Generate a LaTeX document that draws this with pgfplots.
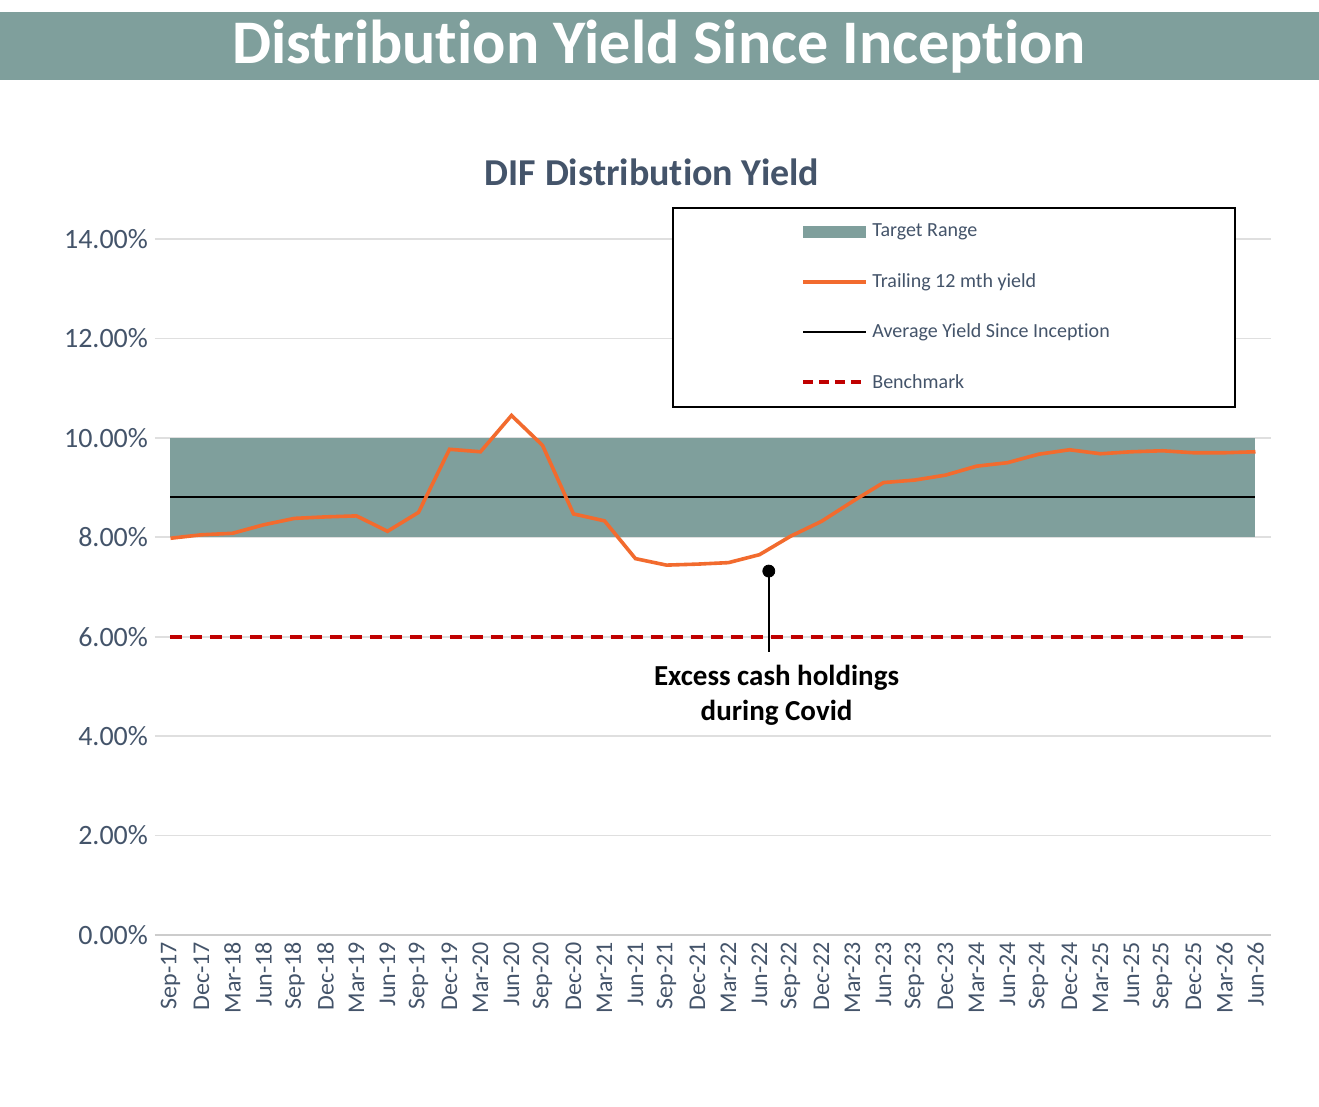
\documentclass[border=0pt]{standalone}
\usepackage{pgfplots}
\pgfplotsset{compat=1.18}
\usepackage{fontspec}
\setmainfont{Carlito}[Ligatures={NoCommon}]
\definecolor{teal}{HTML}{7F9F9C}
\definecolor{txt}{HTML}{44546A}
\definecolor{orng}{HTML}{F26B2E}
\definecolor{bench}{HTML}{C00000}
\begin{document}
\begin{tikzpicture}[x=1pt,y=1pt]
\fill[white] (0,0) rectangle (659.5,553.5);
\fill[teal] (0,513.5) rectangle (659.5,547.5);
\node[text=white,font=\fontsize{31}{33}\selectfont\bfseries] at (329.5,530) {Distribution Yield Since Inception};
\node[text=txt,font=\fontsize{19}{21}\selectfont\bfseries] at (326,467.5) {DIF Distribution Yield};
\begin{axis}[at={(77.5pt,86pt)},anchor=south west,scale only axis,
 width=558pt,height=348pt,xmin=-0.5,xmax=35.5,ymin=0,ymax=14,
 axis line style={draw=none},axis x line*=bottom,
 ytick={0,2,...,14},ymajorgrids,grid style={color=gray!25,line width=0.8pt},
 yticklabel={\pgfmathprintnumber[fixed,fixed zerofill,precision=2]{\tick}\%},
 /pgf/number format/assume math mode=true,
 yticklabel style={font=\fontsize{14}{16}\selectfont,text=txt},
 xtick={0,...,35},major tick length=0pt,
 xticklabels={Sep-17,Dec-17,Mar-18,Jun-18,Sep-18,Dec-18,Mar-19,Jun-19,Sep-19,Dec-19,Mar-20,Jun-20,Sep-20,Dec-20,Mar-21,Jun-21,Sep-21,Dec-21,Mar-22,Jun-22,Sep-22,Dec-22,Mar-23,Jun-23,Sep-23,Dec-23,Mar-24,Jun-24,Sep-24,Dec-24,Mar-25,Jun-25,Sep-25,Dec-25,Mar-26,Jun-26},
 xticklabel style={rotate=90,anchor=east,font=\fontsize{12}{13}\selectfont,text=txt},
 clip=false]
\draw[gray!40,line width=0.8pt] (axis cs:-0.5,0) -- (axis cs:35.5,0);
\addplot[draw=none,fill=teal] coordinates {(0,8) (35,8) (35,10) (0,10)} -- cycle;
\addplot[black,line width=1pt] coordinates {(0,8.82) (35,8.82)};
\addplot[bench,line width=2.2pt,dash pattern=on 6pt off 4pt] coordinates {(0,6) (34.6,6)};
\addplot[orng,line width=1.8pt] coordinates {
(0,7.98)(1,8.05)(2,8.08)(3,8.25)(4,8.38)(5,8.41)(6,8.43)(7,8.12)(8,8.5)(9,9.77)
(10,9.72)(11,10.45)(12,9.85)(13,8.47)(14,8.33)(15,7.57)(16,7.44)(17,7.46)(18,7.49)(19,7.65)
(20,8.02)(21,8.32)(22,8.72)(23,9.1)(24,9.15)(25,9.25)(26,9.43)(27,9.5)(28,9.67)(29,9.76)
(30,9.68)(31,9.72)(32,9.74)(33,9.7)(34,9.7)(35,9.72)};
\addplot[black,line width=1.2pt] coordinates {(19.3,7.32) (19.3,5.7)};
\addplot[only marks,mark=*,mark size=3pt,black] coordinates {(19.3,7.32)};
\node[font=\fontsize{14.5}{17.5}\selectfont\bfseries,align=center] at (axis cs:19.55,4.82) {Excess cash holdings\\during Covid};
\end{axis}
\draw[black,line width=0.9pt,fill=white] (336.5,350) rectangle (617.5,449.5);
\fill[teal] (401.5,434.5) rectangle (433,440.5);
\draw[orng,line width=2pt] (401.5,412.5) -- (433,412.5);
\draw[black,line width=1pt] (401.5,387.5) -- (433,387.5);
\draw[bench,line width=2.2pt,dash pattern=on 5pt off 3pt] (401.5,362.5) -- (433,362.5);
\begin{scope}[every node/.style={anchor=west,text=txt,inner sep=1pt,font=\fontsize{10}{11}\selectfont}]
\node at (435,437.5) {Target Range};
\node at (435,412.5) {Trailing 12 mth yield};
\node at (435,387.5) {Average Yield Since Inception};
\node at (435,362.5) {Benchmark};
\end{scope}
\end{tikzpicture}
\end{document}
